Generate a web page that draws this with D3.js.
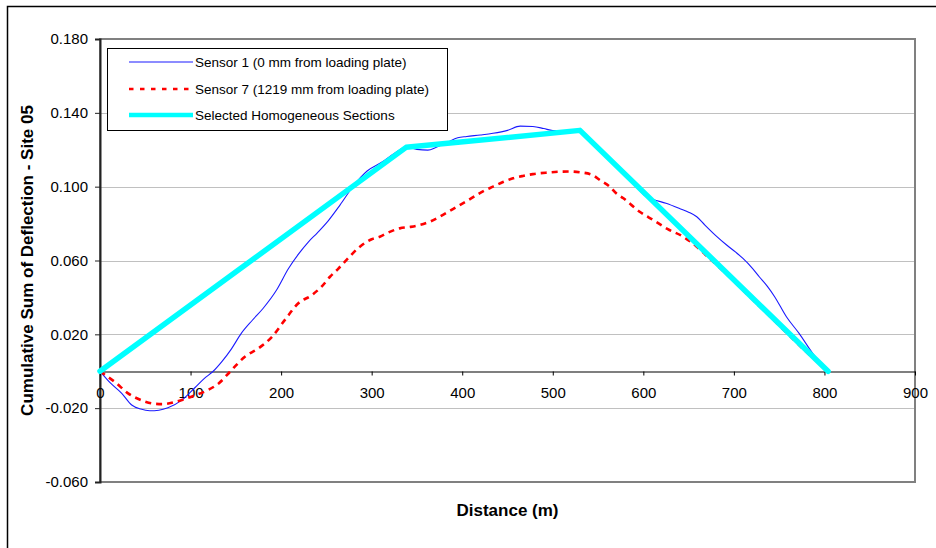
<!DOCTYPE html>
<html>
<head>
<meta charset="utf-8">
<script src="https://cdn.jsdelivr.net/npm/d3@7"></script>
<style>
  html, body { margin: 0; padding: 0; background: #fff; }
  svg { display: block; font-family: "Liberation Sans", Arial, sans-serif; }
</style>
</head>
<body>
<svg id="chart" width="936" height="548"></svg>
<script>
// Distance along the site (m) and cumulative sum of deflection for each sensor
const sensor1Distance = [0, 12, 24, 35, 45, 55, 65, 75, 90, 105, 115, 125, 135, 145, 156, 168, 180, 195, 208, 220, 230, 240, 252, 265, 280, 295, 312, 325, 338, 350, 362, 372, 383, 395, 405, 420, 434, 450, 464, 478, 490, 500, 515, 530, 545, 563, 578, 592, 602, 611, 625, 640, 650, 659, 668, 680, 692, 702, 710, 720, 728, 737, 745, 758, 772, 787, 803];
const sensor1Values = [0, -0.0066, -0.0120, -0.0183, -0.0205, -0.0214, -0.0211, -0.0198, -0.0158, -0.0088, -0.0040, 0.0000, 0.0055, 0.0120, 0.0205, 0.0275, 0.0340, 0.0440, 0.0555, 0.0640, 0.0700, 0.0750, 0.0815, 0.0900, 0.1005, 0.1085, 0.1135, 0.1180, 0.1215, 0.1202, 0.1198, 0.1215, 0.1238, 0.1265, 0.1272, 0.1280, 0.1289, 0.1305, 0.1328, 0.1326, 0.1315, 0.1304, 0.1303, 0.1303, 0.1230, 0.1144, 0.1072, 0.1000, 0.0950, 0.0931, 0.0910, 0.0882, 0.0862, 0.0837, 0.0792, 0.0735, 0.0684, 0.0645, 0.0611, 0.0560, 0.0512, 0.0460, 0.0404, 0.0295, 0.0205, 0.0097, 0.0000];

const sensor7Distance = [0, 8, 17, 31, 40, 50, 60, 70, 83, 95, 105, 120, 131, 145, 160, 175, 190, 204, 219, 234, 245, 254, 263, 272, 287, 300, 309, 320, 331, 343, 353, 365, 375, 385, 394, 405, 416, 425, 434, 445, 456, 467, 478, 493, 508, 520, 530, 544, 552, 563, 570, 578, 587, 596, 611, 627, 644, 659, 670, 690, 720, 750, 780, 804];
const sensor7Values = [0, -0.0028, -0.0060, -0.0120, -0.0145, -0.0165, -0.0176, -0.0178, -0.0166, -0.0148, -0.0130, -0.0100, -0.0066, 0.0005, 0.0079, 0.0124, 0.0187, 0.0277, 0.0368, 0.0413, 0.0460, 0.0512, 0.0555, 0.0602, 0.0675, 0.0715, 0.0729, 0.0755, 0.0774, 0.0782, 0.0792, 0.0812, 0.0837, 0.0865, 0.0891, 0.0922, 0.0955, 0.0980, 0.1000, 0.1025, 0.1045, 0.1058, 0.1068, 0.1076, 0.1081, 0.1082, 0.1078, 0.1063, 0.1036, 0.1000, 0.0964, 0.0937, 0.0900, 0.0864, 0.0819, 0.0770, 0.0729, 0.0675, 0.0625, 0.0535, 0.0392, 0.0248, 0.0105, 0.0000];

// Break points of the selected homogeneous sections
const sectionDistance = [0, 338, 530, 804];
const sectionValues = [0, 0.1213, 0.1305, 0];

const xTicks = [0, 100, 200, 300, 400, 500, 600, 700, 800, 900];
const yTicks = [-0.060, -0.020, 0.020, 0.060, 0.100, 0.140, 0.180];
const yTickLabels = ["-0.060", "-0.020", "0.020", "0.060", "0.100", "0.140", "0.180"];

const seriesNames = [
  "Sensor 1 (0 mm from loading plate)",
  "Sensor 7 (1219 mm from loading plate)",
  "Selected Homogeneous Sections"
];

const svg = d3.select("#chart");
const plotLeft = 100, plotRight = 915, plotTop = 39, plotBottom = 482;
const fontFamily = "'Liberation Sans', Arial, sans-serif";

const x = d3.scaleLinear().domain([0, 900]).range([plotLeft, plotRight]);
const y = d3.scaleLinear().domain([-0.06, 0.18]).range([plotBottom, plotTop]);

// Outer chart frame (runs off the right and bottom edges)
svg.append("rect")
  .attr("x", 7.5).attr("y", 6.5)
  .attr("width", 960).attr("height", 580)
  .attr("fill", "#fff").attr("stroke", "#000").attr("stroke-width", 1.5);

// Horizontal gridlines
svg.append("g")
  .selectAll("line")
  .data(yTicks)
  .join("line")
  .attr("x1", plotLeft).attr("x2", plotRight)
  .attr("y1", d => Math.round(y(d)) + 0.5).attr("y2", d => Math.round(y(d)) + 0.5)
  .attr("stroke", "#c0c0c0").attr("stroke-width", 1);

// Plot area border
svg.append("rect")
  .attr("x", plotLeft).attr("y", plotTop)
  .attr("width", plotRight - plotLeft).attr("height", plotBottom - plotTop)
  .attr("fill", "none").attr("stroke", "#808080").attr("stroke-width", 2);

// Y axis
const yAxis = d3.axisLeft(y)
  .tickValues(yTicks)
  .tickFormat((d, i) => yTickLabels[i])
  .tickSize(5).tickPadding(7);
const gy = svg.append("g").attr("transform", `translate(${plotLeft},0)`).call(yAxis);
gy.select(".domain").attr("stroke", "#222").attr("stroke-width", 2);
gy.selectAll(".tick line").attr("stroke", "#222");
gy.selectAll("text").attr("font-size", 15).attr("fill", "#000")
  .attr("font-family", fontFamily);

// X axis crossing at zero
const xAxis = d3.axisBottom(x)
  .tickValues(xTicks)
  .tickSize(4).tickPadding(12)
  .tickSizeOuter(0);
const gx = svg.append("g").attr("transform", `translate(0,${Math.round(y(0)) + 0.5})`).call(xAxis);
gx.select(".domain").attr("stroke", "#000").attr("stroke-width", 1.2);
gx.selectAll(".tick line").attr("stroke", "#000");
gx.selectAll("text").attr("font-size", 15).attr("fill", "#000")
  .attr("font-family", fontFamily);

// Series lines
const line = d3.line()
  .x(d => x(d[0]))
  .y(d => y(d[1]))
  .curve(d3.curveMonotoneX);

const s1 = sensor1Distance.map((d, i) => [d, sensor1Values[i]]);
const s7 = sensor7Distance.map((d, i) => [d, sensor7Values[i]]);
const sec = sectionDistance.map((d, i) => [d, sectionValues[i]]);

svg.append("path").datum(s1)
  .attr("d", line)
  .attr("fill", "none").attr("stroke", "#1a1aff").attr("stroke-width", 1.1);

svg.append("path").datum(s7)
  .attr("d", line)
  .attr("fill", "none").attr("stroke", "#ff0000").attr("stroke-width", 2.6)
  .attr("stroke-dasharray", "6,5");

svg.append("path").datum(sec)
  .attr("d", d3.line().x(d => x(d[0])).y(d => y(d[1])))
  .attr("fill", "none").attr("stroke", "#00ffff").attr("stroke-width", 5.5)
  .attr("stroke-linejoin", "round").attr("stroke-linecap", "round");

// Axis titles
svg.append("text")
  .attr("x", (plotLeft + plotRight) / 2).attr("y", 516)
  .attr("text-anchor", "middle")
  .attr("font-size", 17).attr("font-weight", "bold")
  .text("Distance (m)");

svg.append("text")
  .attr("transform", `translate(33,${(plotTop + plotBottom) / 2}) rotate(-90)`)
  .attr("text-anchor", "middle")
  .attr("font-size", 17).attr("font-weight", "bold")
  .text("Cumulative Sum of Deflection - Site 05");

// Legend
const legend = svg.append("g");
legend.append("rect")
  .attr("x", 107.5).attr("y", 48.5)
  .attr("width", 340).attr("height", 82)
  .attr("fill", "#fff").attr("stroke", "#000").attr("stroke-width", 1);

const legendStyles = [
  { stroke: "#1a1aff", width: 1.1, dash: null },
  { stroke: "#ff0000", width: 2.6, dash: "4.5,6.5" },
  { stroke: "#00ffff", width: 4.5, dash: null }
];
const legendY = [62, 89, 115];

seriesNames.forEach((name, i) => {
  const st = legendStyles[i];
  const ln = legend.append("line")
    .attr("x1", 129).attr("x2", 193)
    .attr("y1", legendY[i]).attr("y2", legendY[i])
    .attr("stroke", st.stroke).attr("stroke-width", st.width);
  if (st.dash) ln.attr("stroke-dasharray", st.dash);
  legend.append("text")
    .attr("x", 195).attr("y", legendY[i] + 5)
    .attr("font-size", 13.5)
    .text(name);
});
</script>
</body>
</html>
